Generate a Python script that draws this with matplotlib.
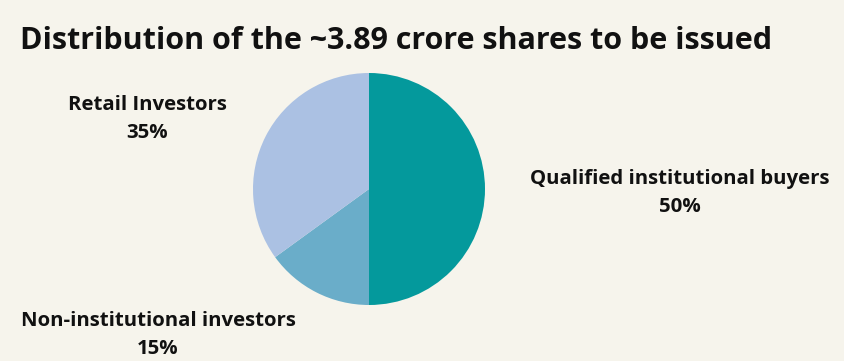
import matplotlib
matplotlib.use("Agg")
import matplotlib.pyplot as plt

categories = ["Qualified institutional buyers", "Non-institutional investors", "Retail Investors"]
shares = [50, 15, 35]
colors = ["#04999C", "#6AADC9", "#ABC1E3"]
bg = "#F6F4EC"

W, H = 845, 361
fig = plt.figure(figsize=(W / 100, H / 100), dpi=100, facecolor=bg)

cx, cy, r = 369, 189, 116
ax = fig.add_axes([(cx - r) / W, (H - cy - r) / H, 2 * r / W, 2 * r / H])
ax.set_facecolor(bg)
ax.pie(shares, colors=colors, startangle=90, counterclock=False, radius=1,
       wedgeprops=dict(linewidth=0))
ax.set_xlim(-1, 1)
ax.set_ylim(-1, 1)
ax.set_aspect("equal")
ax.axis("off")

fig.text(20 / W, 1 - 41 / H, "Distribution of the ~3.89 crore shares to be issued",
         fontfamily="Open Sans", fontweight="bold", fontsize=22,
         ha="left", va="center", color="#111111")

label_pos = {
    "Qualified institutional buyers": (680, 179),
    "Non-institutional investors": (158, 321),
    "Retail Investors": (147, 105),
}
for cat, val in zip(categories, shares):
    x, y = label_pos[cat]
    fig.text(x / W, 1 - y / H, cat, fontfamily="Open Sans", fontweight="bold",
             fontsize=14.7, ha="center", va="center", color="#111111")
    fig.text(x / W, 1 - (y + 28) / H, f"{val}%", fontfamily="Open Sans", fontweight="bold",
             fontsize=14.7, ha="center", va="center", color="#111111")

fig.savefig("out.png", dpi=100, facecolor=bg)
